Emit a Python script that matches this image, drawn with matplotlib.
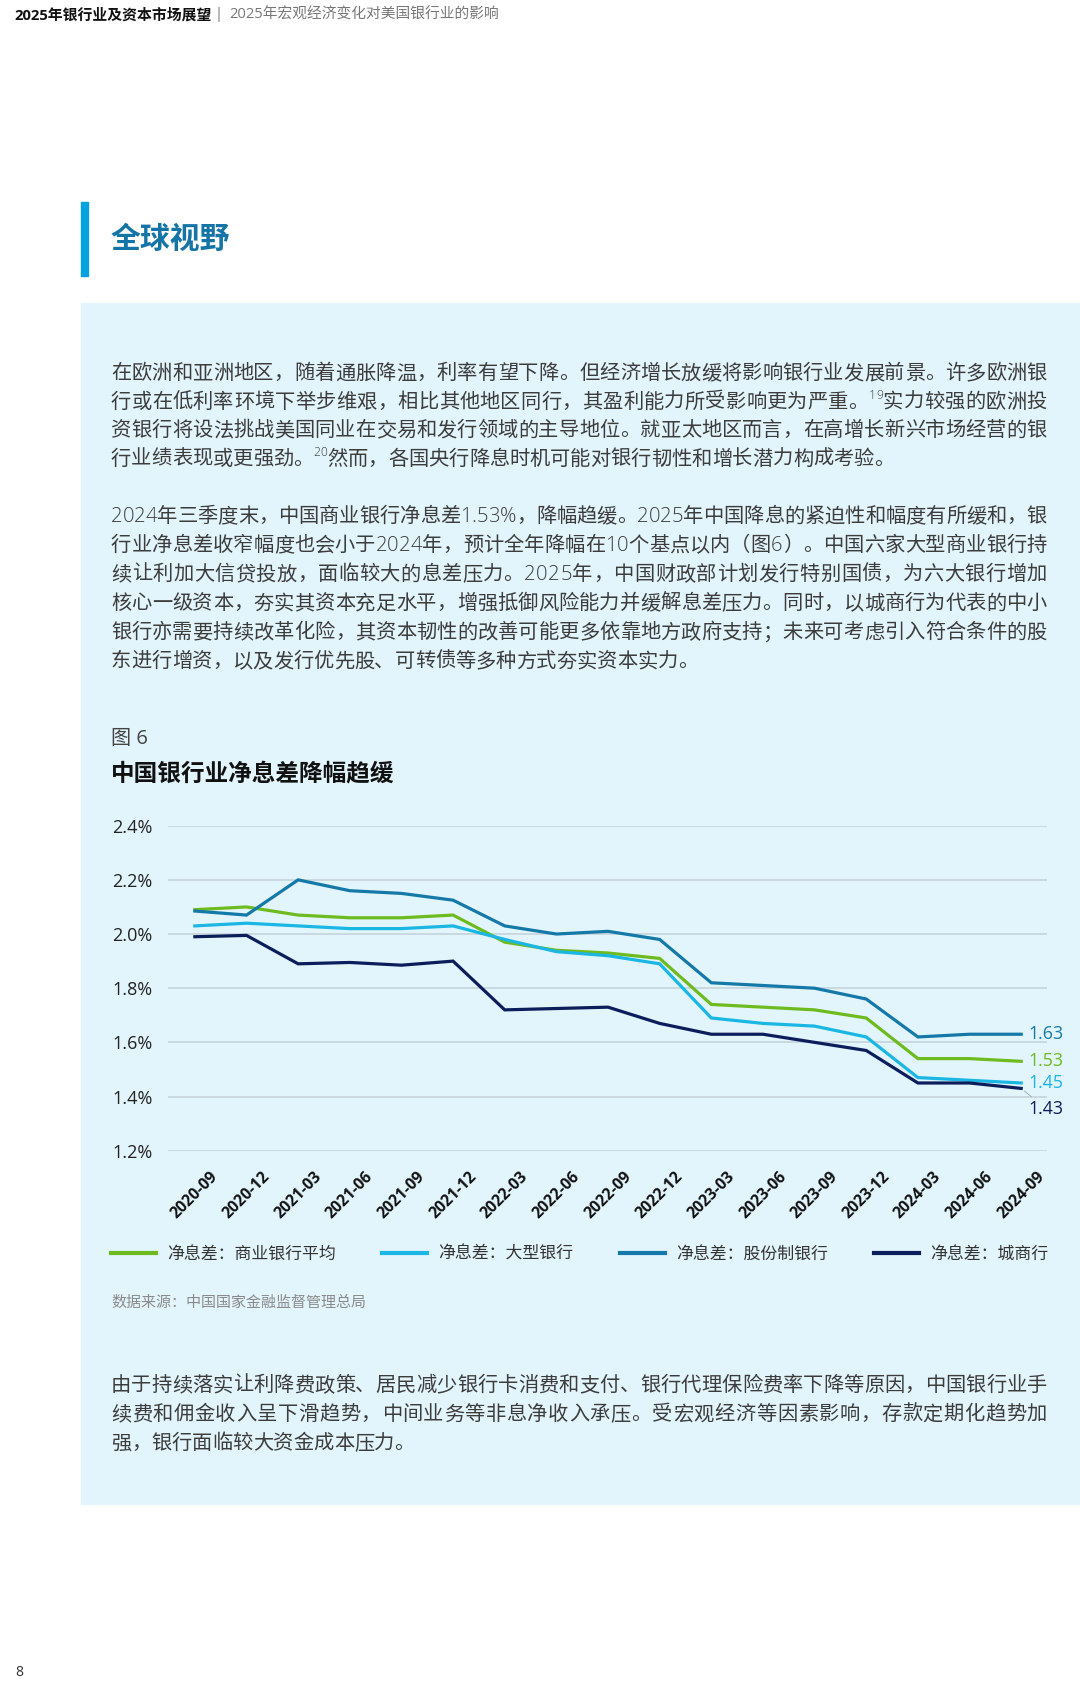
import matplotlib
matplotlib.use('Agg')
import matplotlib.pyplot as plt
from matplotlib.font_manager import FontProperties
from matplotlib.patches import Rectangle

# data: net interest margin (%), quarterly
quarters = ['2020-09', '2020-12', '2021-03', '2021-06', '2021-09', '2021-12',
            '2022-03', '2022-06', '2022-09', '2022-12', '2023-03', '2023-06',
            '2023-09', '2023-12', '2024-03', '2024-06', '2024-09']
nim_avg = [2.09, 2.10, 2.07, 2.06, 2.06, 2.07, 1.97, 1.94, 1.93, 1.91,
           1.74, 1.73, 1.72, 1.69, 1.54, 1.54, 1.53]
nim_large = [2.03, 2.04, 2.03, 2.02, 2.02, 2.03, 1.98, 1.935, 1.92, 1.89,
             1.69, 1.67, 1.66, 1.62, 1.47, 1.46, 1.45]
nim_joint = [2.085, 2.07, 2.20, 2.16, 2.15, 2.125, 2.03, 2.00, 2.01, 1.98,
             1.82, 1.81, 1.80, 1.76, 1.62, 1.63, 1.63]
nim_city = [1.99, 1.995, 1.89, 1.895, 1.885, 1.90, 1.72, 1.725, 1.73, 1.67,
            1.63, 1.63, 1.60, 1.57, 1.45, 1.45, 1.43]
series_names = ['净息差：商业银行平均', '净息差：大型银行', '净息差：股份制银行', '净息差：城商行']
yticks = [1.2, 1.4, 1.6, 1.8, 2.0, 2.2, 2.4]

para1 = [
    ['在欧洲和亚洲地区，随着通胀降温，利率有望下降。但经济增长放缓将影响银行业发展前景。许多欧洲银'],
    ['行或在低利率环境下举步维艰，相比其他地区同行，其盈利能力所受影响更为严重。', ('sup', '19'), '实力较强的欧洲投'],
    ['资银行将设法挑战美国同业在交易和发行领域的主导地位。就亚太地区而言，在高增长新兴市场经营的银'],
    ['行业绩表现或更强劲。', ('sup', '20'), '然而，各国央行降息时机可能对银行韧性和增长潜力构成考验。'],
]
para2 = [
    ['2024年三季度末，中国商业银行净息差1.53%，降幅趋缓。2025年中国降息的紧迫性和幅度有所缓和，银'],
    ['行业净息差收窄幅度也会小于2024年，预计全年降幅在10个基点以内（图6）。中国六家大型商业银行持'],
    ['续让利加大信贷投放，面临较大的息差压力。2025年，中国财政部计划发行特别国债，为六大银行增加'],
    ['核心一级资本，夯实其资本充足水平，增强抵御风险能力并缓解息差压力。同时，以城商行为代表的中小'],
    ['银行亦需要持续改革化险，其资本韧性的改善可能更多依靠地方政府支持；未来可考虑引入符合条件的股'],
    ['东进行增资，以及发行优先股、可转债等多种方式夯实资本实力。'],
]
para3 = [
    ['由于持续落实让利降费政策、居民减少银行卡消费和支付、银行代理保险费率下降等原因，中国银行业手'],
    ['续费和佣金收入呈下滑趋势，中间业务等非息净收入承压。受宏观经济等因素影响，存款定期化趋势加'],
    ['强，银行面临较大资金成本压力。'],
]

W, H = 1080, 1686
FAM = ['Open Sans', 'Noto Sans CJK SC']
colors = ['#6EBB1F', '#1AB6E4', '#1479A8', '#0B1E5B']

fig = plt.figure(figsize=(W / 100, H / 100), dpi=100)
renderer = fig.canvas.get_renderer()


def fx(x):
    return x / W


def fy(y):
    return 1 - y / H


def text_line(yc, parts, size=14.6, justify=True, color='#3C3C3C', x0=111, x1=1047):
    # one body line, characters spread out so the line fills x0..x1
    prop = FontProperties(family=FAM, size=size, weight='light')
    sprop = FontProperties(family=FAM, size=size * 0.6, weight='light')
    items = []
    for p in parts:
        if isinstance(p, tuple):
            items += [(ch, sprop, True) for ch in p[1]]
        else:
            items += [(ch, prop, False) for ch in p]
    widths = [renderer.get_text_width_height_descent(ch, pr, ismath=False)[0]
              for ch, pr, _ in items]
    gap = (x1 - x0 - sum(widths)) / (len(items) - 1) if justify else 0
    px = size * 100 / 72
    base = yc + 0.36 * px
    x = x0
    for (ch, pr, sup), w in zip(items, widths):
        yy = base - (0.45 * px if sup else 0)
        fig.text(fx(x), fy(yy), ch, fontproperties=pr, color=color,
                 ha='left', va='baseline')
        x += w + (gap if not sup else gap * 0.2)


def paragraph(y0, step, lines):
    for i, parts in enumerate(lines):
        text_line(y0 + i * step, parts, justify=(i < len(lines) - 1))


# page background elements
fig.add_artist(Rectangle((fx(81), fy(1504)), (W - 81) / W, (1504 - 303) / H,
                         transform=fig.transFigure, color='#E3F5FC', zorder=0))
fig.add_artist(Rectangle((fx(81), fy(276)), 7 / W, (276 - 202) / H,
                         transform=fig.transFigure, color='#00A3E0', zorder=1))

# header
fig.text(fx(14), fy(15), '2025年银行业及资本市场展望', family=FAM, fontsize=10.7,
         fontweight='bold', color='#111111', va='center')
fig.text(fx(219), fy(15), '|', family=FAM, fontsize=10.6, color='#777777',
         va='center', ha='center')
fig.text(fx(229), fy(15), '2025年宏观经济变化对美国银行业的影响', family=FAM,
         fontsize=10.6, color='#777777', va='center')

fig.text(fx(111), fy(240), '全球视野', family=FAM, fontsize=21.5, fontweight='bold',
         color='#1474A6', va='center')

paragraph(372, 28.5, para1)
paragraph(515, 29, para2)
paragraph(1384, 29, para3)

fig.text(fx(111), fy(739), '图 6', family=FAM, fontsize=14.5, color='#444444', va='center')
fig.text(fx(111), fy(774), '中国银行业净息差降幅趋缓', family=FAM, fontsize=17,
         fontweight='bold', color='#111111', va='center')

# chart
ax = fig.add_axes([fx(168), fy(1150.7), (1047 - 168) / W, (1150.7 - 825.7) / H])
ax.set_facecolor('none')
xs = list(range(len(quarters)))
all_series = [nim_avg, nim_large, nim_joint, nim_city]
handles = []
for vals, c in zip(all_series, colors):
    ln, = ax.plot(xs, vals, color=c, lw=2.3, solid_joinstyle='miter', zorder=3)
    handles.append(ln)

ax.set_xlim(-0.52, 16.5)
ax.set_ylim(1.2, 2.4)
ax.set_yticks(yticks)
ax.set_yticklabels([f'{v:.1f}%' for v in yticks], family=FAM, fontsize=13, color='#222222')
ax.set_xticks(xs)
ax.set_xticklabels(quarters, rotation=45, ha='center', family=FAM, fontsize=11.3,
                   fontweight='bold', color='#111111')
ax.tick_params(axis='y', length=0, pad=11)
ax.tick_params(axis='x', length=0, pad=13)
ax.grid(axis='y', color='#C8D5DC', lw=1.3)
ax.set_axisbelow(True)
for s in ax.spines.values():
    s.set_visible(False)

# end labels
offsets = [0, 0, 0, -14.5]
for vals, c, dy in zip(all_series, colors, offsets):
    kw = {}
    if dy:
        kw['arrowprops'] = dict(arrowstyle='-', color='#9AA5AA', lw=0.6,
                                shrinkA=0, shrinkB=3)
    ax.annotate(f'{vals[-1]:.2f}', xy=(xs[-1], vals[-1]), xytext=(5, dy),
                textcoords='offset points', ha='left', va='center', color=c,
                family=FAM, fontsize=12.8, annotation_clip=False, **kw)

leg = ax.legend(handles, series_names, ncol=4, loc='center left',
                bbox_to_anchor=(fx(111), fy(1255)), bbox_transform=fig.transFigure,
                frameon=False, prop=FontProperties(family=FAM, size=12.2),
                handlelength=2.65, handletextpad=0.65, columnspacing=2.75,
                borderpad=0, borderaxespad=0)
for t in leg.get_texts():
    t.set_color('#333333')
for l in leg.get_lines():
    l.set_linewidth(3)

fig.text(fx(111), fy(1303), '数据来源：中国国家金融监督管理总局', family=FAM,
         fontsize=10.8, color='#8A8A8A', va='center')
fig.text(fx(15), fy(1673), '8', family=FAM, fontsize=10, color='#333333', va='center')

fig.savefig('out.png', dpi=100)
